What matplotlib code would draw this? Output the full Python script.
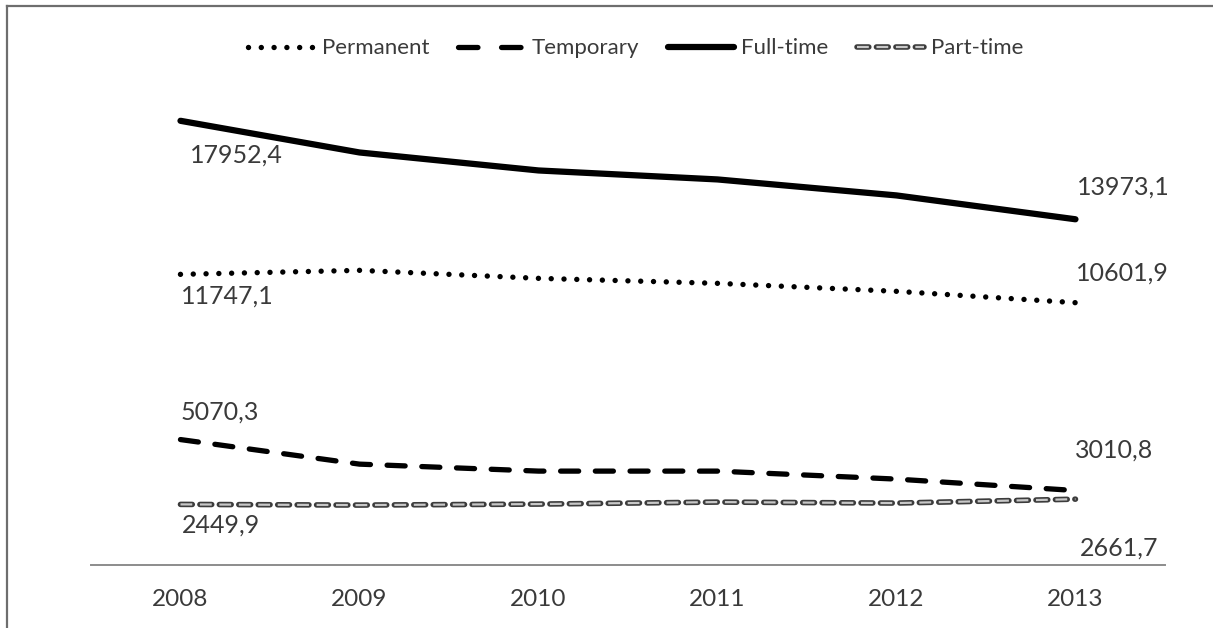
import matplotlib
matplotlib.use("Agg")
import matplotlib.pyplot as plt
from matplotlib.lines import Line2D

plt.rcParams['font.family'] = ['Lato', 'DejaVu Sans']
plt.rcParams['lines.scale_dashes'] = False

years = ['2008', '2009', '2010', '2011', '2012', '2013']
permanent = [11747.1, 11909, 11586, 11384, 11061, 10601.9]
temporary = [5070.3, 4077, 3795, 3795, 3472, 3010.8]
full_time = [17952.4, 16673, 15946, 15583, 14937, 13973.1]
part_time = [2449.9, 2422, 2462, 2543, 2503, 2661.7]

# first/last labels: (index, offset in points)
labels_full = [(0, (7, -25)), (5, (1, 23))]
labels_perm = [(0, (0, -16)), (5, (0, 21))]
labels_temp = [(0, (0, 20)), (5, (0, 29))]
labels_part = [(0, (1, -15)), (5, (3, -35))]

txt_color = '#3a3a3a'

fig = plt.figure(figsize=(12.13, 6.28), dpi=100)
ax = fig.add_axes([0.075, 0.1003, 0.8854, 0.788])
x = list(range(len(years)))

perm_style = dict(color='black', lw=3.9, linestyle=(0, (0.01, 9.2)),
                  dash_capstyle='round')
temp_style = dict(color='black', lw=3.8, linestyle=(0, (13, 12)),
                  dash_capstyle='round')
full_style = dict(color='black', lw=4.5, solid_capstyle='round')
part_out = dict(color='#3c3c3c', lw=4.0, linestyle=(0, (8.5, 5.5)),
                dash_capstyle='round')
part_in = dict(color='#c8c8c8', lw=1.6, linestyle=(0, (8.5, 5.5)),
               dash_capstyle='butt')

ax.plot(x, permanent, **perm_style)
ax.plot(x, temporary, **temp_style)
ax.plot(x, full_time, **full_style)
ax.plot(x, part_time, **part_out)
ax.plot(x, part_time, **part_in)

for series, labs in [(full_time, labels_full), (permanent, labels_perm),
                     (temporary, labels_temp), (part_time, labels_part)]:
    for i, off in labs:
        ax.annotate(f'{series[i]:.1f}'.replace('.', ','), (x[i], series[i]),
                    xytext=off, textcoords='offset points', ha='left',
                    va='center', fontsize=18, color=txt_color)

ax.set_xlim(-0.5, 5.5)
ax.set_ylim(0, 20000)
ax.set_xticks(x)
ax.set_xticklabels(years, fontsize=17.5, color=txt_color)
ax.tick_params(axis='x', length=0, pad=17)
ax.set_yticks([])
for s in ['top', 'right', 'left']:
    ax.spines[s].set_visible(False)
ax.spines['bottom'].set_color('#8c8c8c')
ax.spines['bottom'].set_linewidth(1.4)

# legend handles
h_perm = Line2D([], [], **perm_style)
h_temp = Line2D([], [], color='black', lw=3.8, linestyle=(0, (14, 17)),
                dash_capstyle='round')
h_full = Line2D([], [], **full_style)
h_part = (Line2D([], [], **part_out), Line2D([], [], **part_in))

leg = fig.legend([h_perm, h_temp, h_full, h_part],
                 ['Permanent', 'Temporary', 'Full-time', 'Part-time'],
                 loc='center', bbox_to_anchor=(0.524, 0.923), ncol=4,
                 frameon=False, fontsize=16, handlelength=3.0,
                 handletextpad=0.3, columnspacing=1.3)
for t in leg.get_texts():
    t.set_color(txt_color)

# outer frame of the picture
fig.add_artist(Line2D([7 / 1213, 1], [1 - 6 / 628, 1 - 6 / 628],
                      transform=fig.transFigure, color='#6e6e6e', lw=1.6))
fig.add_artist(Line2D([7 / 1213, 7 / 1213], [0, 1 - 6 / 628],
                      transform=fig.transFigure, color='#6e6e6e', lw=1.6))

fig.savefig('out.png', dpi=100)
